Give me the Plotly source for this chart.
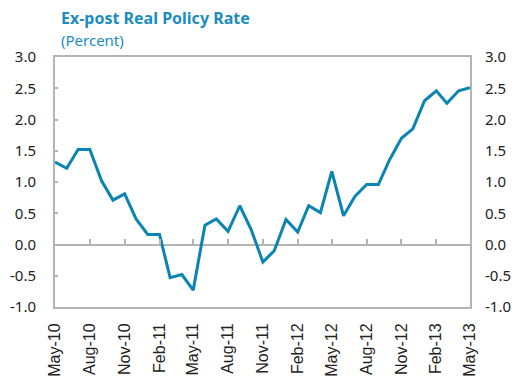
import pandas as pd
import plotly.graph_objects as go

# Monthly ex-post real policy rate, May 2010 - May 2013 (percent)
months = pd.date_range("2010-05-01", "2013-05-01", freq="MS")
rate = [1.32, 1.22, 1.52, 1.52, 1.02, 0.71, 0.81, 0.41, 0.16, 0.16,
        -0.53, -0.48, -0.73, 0.31, 0.41, 0.21, 0.62, 0.24, -0.28, -0.10,
        0.40, 0.20, 0.62, 0.51, 1.17, 0.46, 0.77, 0.96, 0.96, 1.36,
        1.70, 1.85, 2.30, 2.46, 2.26, 2.46, 2.51]

tick_dates = pd.date_range("2010-05-01", "2013-05-01", freq="3MS")
tick_labels = [d.strftime("%b-%y") for d in tick_dates]
y_ticks = [-1.0, -0.5, 0.0, 0.5, 1.0, 1.5, 2.0, 2.5, 3.0]
y_labels = [f"{v:.1f}" for v in y_ticks]

LINE = "#0a84b2"
TITLE = "#1a8cc0"
GRID = "#b4b4b4"
FONT = "Noto Sans"

fig = go.Figure()
fig.add_trace(go.Scatter(x=months, y=rate, mode="lines",
                         line=dict(color=LINE, width=3), hoverinfo="skip"))
# invisible copy so the right-hand axis renders
fig.add_trace(go.Scatter(x=months, y=rate, mode="lines", yaxis="y2",
                         line=dict(color="rgba(0,0,0,0)", width=0), hoverinfo="skip"))
# tick marks drawn along the zero line
fig.add_trace(go.Scatter(x=months, y=rate, mode="lines", xaxis="x2",
                         line=dict(color="rgba(0,0,0,0)", width=0), hoverinfo="skip"))

x_range = [months[0], months[-1]]
fig.update_layout(
    width=515, height=377,
    margin=dict(l=55, r=45, t=57, b=70),
    paper_bgcolor="white", plot_bgcolor="white",
    showlegend=False,
    font=dict(family=FONT, size=13, color="#222"),
    xaxis=dict(range=x_range, tickvals=tick_dates, ticktext=tick_labels,
               tickangle=-90, ticks="", showgrid=False, zeroline=False,
               showline=True, linecolor=GRID, linewidth=2, mirror=True,
               ticklabelstandoff=8, automargin=False,
               tickfont=dict(family="Liberation Sans", size=16)),
    xaxis2=dict(range=x_range, overlaying="x", anchor="free", position=0.25,
                tickvals=tick_dates, ticks="inside", ticklen=6, tickwidth=1.5,
                tickcolor=GRID, showticklabels=False, showline=False,
                showgrid=False, zeroline=False, automargin=False),
    yaxis=dict(range=[-1, 3], tickvals=y_ticks, ticktext=y_labels,
               ticks="inside", ticklen=3, tickwidth=1.5, tickcolor=GRID,
               showgrid=False, zeroline=True, zerolinecolor=GRID, zerolinewidth=2,
               showline=True, linecolor=GRID, linewidth=2, mirror=True,
               ticklabelstandoff=14, tickfont=dict(size=15), automargin=False),
    yaxis2=dict(range=[-1, 3], overlaying="y", side="right", tickvals=y_ticks,
                ticktext=y_labels, ticks="", showgrid=False, zeroline=False,
                showline=False, ticklabelstandoff=14, tickfont=dict(size=15),
                automargin=False),
    annotations=[
        dict(text="<b>Ex-post Real Policy Rate</b>", xref="paper", yref="paper",
             x=(59 - 55) / 415, y=1 + (57 - 18) / 250, xanchor="left", yanchor="middle",
             showarrow=False, font=dict(family=FONT, size=16, color=TITLE)),
        dict(text="(Percent)", xref="paper", yref="paper",
             x=(59 - 55) / 415, y=1 + (57 - 40) / 250, xanchor="left", yanchor="middle",
             showarrow=False, font=dict(family=FONT, size=15, color=TITLE)),
    ],
)

fig.write_html("out.html")
